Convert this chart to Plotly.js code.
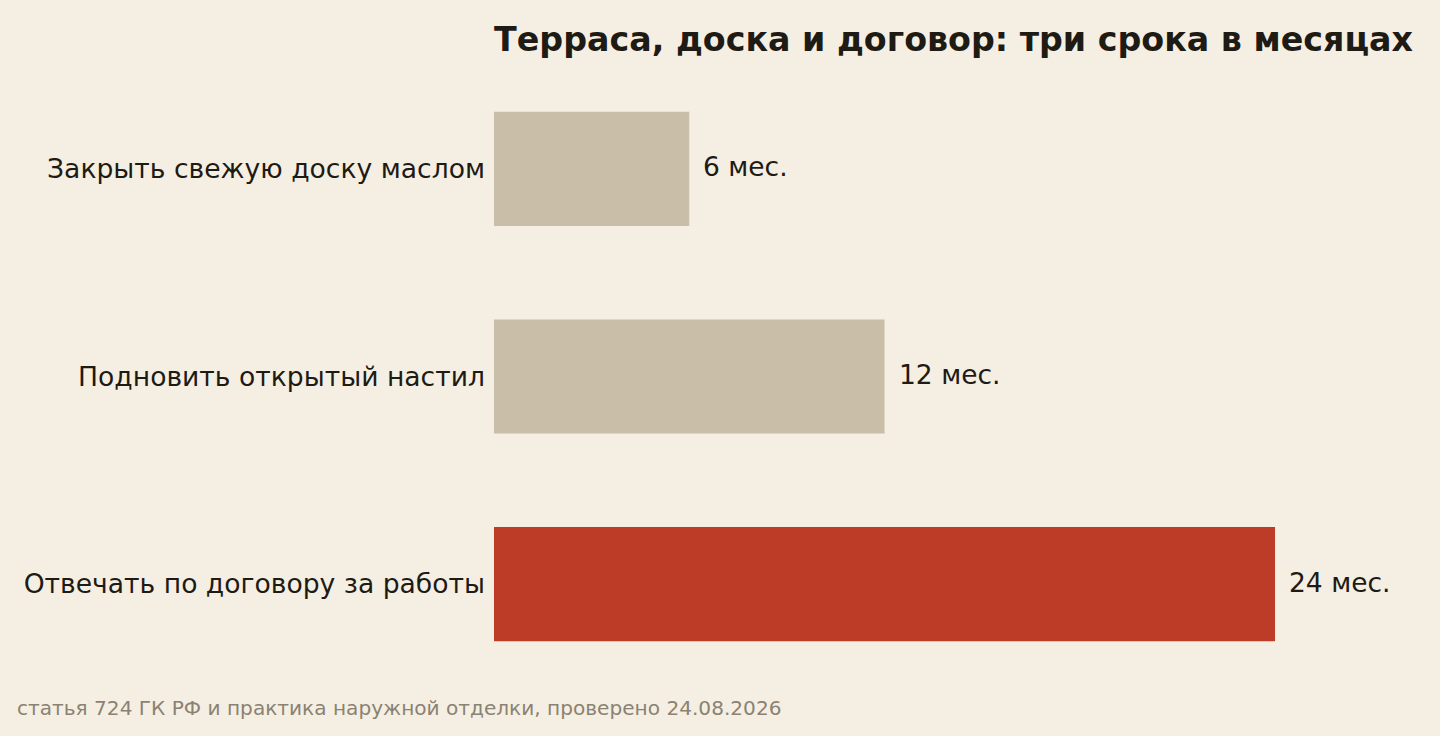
<!DOCTYPE html>
<html><head><meta charset="utf-8">
<script src="https://cdn.plot.ly/plotly-3.0.1.min.js"></script>
<style>html,body{margin:0;padding:0;background:#f5efe3;}#chart{width:1440px;height:736px;}</style>
</head><body><div id="chart"></div>
<script>
const categories = ["Закрыть свежую доску маслом", "Подновить открытый настил", "Отвечать по договору за работы"];
const months = [6, 12, 24];
const valueLabels = ["6 мес.", "12 мес.", "24 мес."];
const barColors = ["#c9bea8", "#c9bea8", "#bc3c27"];
const titleText = "Терраса, доска и договор: три срока в месяцах";
const sourceText = "статья 724 ГК РФ и практика наружной отделки, проверено 24.08.2026";

const font = "DejaVu Sans, sans-serif";
const trace = {
  type: "bar", orientation: "h",
  x: months, y: categories,
  marker: {color: barColors, line: {width: 0}},
  width: 0.55, hoverinfo: "skip"
};
const annotations = months.map((v, i) => ({
  x: v, y: categories[i], xref: "x", yref: "y",
  text: valueLabels[i], showarrow: false, xanchor: "left", xshift: 12, yshift: 2,
  font: {family: font, size: 26.5, color: "#1e1a14"}
}));
annotations.push({
  text: sourceText, xref: "paper", yref: "paper", x: -494/920 + 15/920, y: 0,
  xanchor: "left", yanchor: "middle", yshift: -20, showarrow: false,
  font: {family: font, size: 20.1, color: "#8a8272"}
});
const layout = {
  width: 1440, height: 736,
  paper_bgcolor: "#f5efe3", plot_bgcolor: "#f5efe3",
  margin: {l: 494, r: 26, t: 65, b: 48},
  title: {text: "<b>" + titleText + "</b>", x: 494/1440, xanchor: "left", y: 1 - 39/736, yanchor: "middle",
          font: {family: font, size: 33.3, color: "#1e1a14"}},
  xaxis: {range: [0, 28.27], visible: false, showgrid: false, zeroline: false, fixedrange: true},
  yaxis: {autorange: "reversed", showgrid: false, zeroline: false, showline: false, ticks: "",
          ticklabelstandoff: 8, tickfont: {family: font, size: 26.6, color: "#1e1a14"}, automargin: false},
  showlegend: false,
  annotations: annotations
};
Plotly.newPlot("chart", [trace], layout, {displayModeBar: false, staticPlot: true});
</script></body></html>
